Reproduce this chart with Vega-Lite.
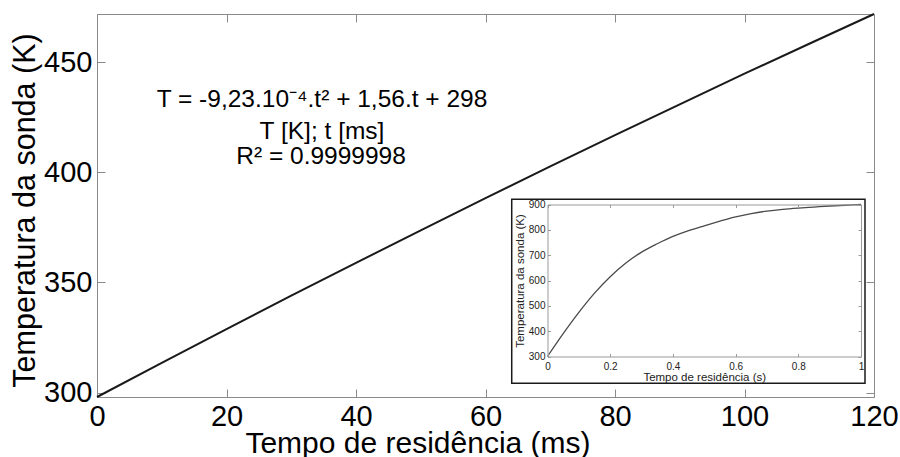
{
  "$schema": "https://vega.github.io/schema/vega-lite/v6.json",
  "width": 777,
  "height": 383,
  "autosize": {"type": "none"},
  "padding": {"left": 97, "top": 14, "right": 26, "bottom": 60},
  "background": "white",
  "config": {
    "font": "Liberation Sans",
    "view": {"stroke": "#8a8a8a", "strokeWidth": 1},
    "axis": {"grid": false, "domain": false, "labelFlush": false, "labelOverlap": false, "labelBound": false, "titleFontWeight": "normal"}
  },
  "datasets": {
    "main": [
      {"t": 0, "T": 298.0},
      {"t": 10, "T": 313.5},
      {"t": 20, "T": 328.8},
      {"t": 30, "T": 344.0},
      {"t": 40, "T": 358.9},
      {"t": 50, "T": 373.7},
      {"t": 60, "T": 388.3},
      {"t": 70, "T": 402.7},
      {"t": 80, "T": 416.9},
      {"t": 90, "T": 430.9},
      {"t": 100, "T": 444.8},
      {"t": 110, "T": 458.4},
      {"t": 120, "T": 471.9}
    ],
    "inset": [
      {"s": 0, "T": 300},
      {"s": 0.05, "T": 390},
      {"s": 0.1, "T": 474},
      {"s": 0.15, "T": 550},
      {"s": 0.2, "T": 615},
      {"s": 0.25, "T": 669},
      {"s": 0.3, "T": 712},
      {"s": 0.35, "T": 745},
      {"s": 0.4, "T": 774},
      {"s": 0.45, "T": 797},
      {"s": 0.5, "T": 816},
      {"s": 0.55, "T": 834},
      {"s": 0.6, "T": 851},
      {"s": 0.65, "T": 864},
      {"s": 0.7, "T": 874},
      {"s": 0.75, "T": 881},
      {"s": 0.8, "T": 886},
      {"s": 0.85, "T": 890},
      {"s": 0.9, "T": 894},
      {"s": 0.95, "T": 897},
      {"s": 1.0, "T": 900}
    ]
  },
  "layer": [
    {
      "layer": [
        {
          "data": {"name": "main"},
          "mark": {"type": "line", "color": "#1a1a1a", "strokeWidth": 2},
          "encoding": {
            "x": {
              "field": "t", "type": "quantitative",
              "scale": {"domain": [0, 120], "nice": false, "zero": false},
              "axis": {
                "orient": "bottom", "values": [0, 20, 40, 60, 80, 100, 120], "format": "d",
                "tickSize": -8, "tickColor": "#8a8a8a", "tickWidth": 1,
                "labelFontSize": 29, "labelColor": "black", "labelPadding": 13.5,
                "title": "Tempo de residência (ms)", "titleFontSize": 30, "titleColor": "black",
                "titleX": 320.5, "titleY": 55, "titleBaseline": "alphabetic", "titleAlign": "center"
              }
            },
            "y": {
              "field": "T", "type": "quantitative",
              "scale": {"domain": [298, 471.9], "nice": false, "zero": false},
              "axis": {
                "orient": "left", "values": [300, 350, 400, 450], "format": "d",
                "tickSize": -8, "tickColor": "#8a8a8a", "tickWidth": 1,
                "labelFontSize": 29, "labelColor": "black", "labelPadding": 13,
                "title": "Temperatura da sonda (K)", "titleFontSize": 30.5, "titleColor": "black", "titlePadding": 3,
                "titleY": 196
              }
            }
          }
        },
        {
          "data": {"values": [{}]},
          "mark": {"type": "rect", "fill": "white", "stroke": "#1a1a1a", "strokeWidth": 1.5},
          "encoding": {
            "x": {"datum": 64.05},
            "x2": {"datum": 118.61},
            "y": {"datum": 387.77},
            "y2": {"datum": 304.22}
          }
        },
        {
          "data": {"values": [{"label": "T = -9,23.10⁻⁴.t² + 1,56.t + 298"}]},
          "mark": {"type": "text", "fontSize": 24.5, "align": "center", "baseline": "alphabetic", "color": "black"},
          "encoding": {
            "x": {"datum": 34.75},
            "y": {"datum": 429.9},
            "text": {"field": "label"}
          }
        },
        {
          "data": {"values": [{"label": "T [K]; t [ms]"}]},
          "mark": {"type": "text", "fontSize": 24.5, "align": "center", "baseline": "alphabetic", "color": "black"},
          "encoding": {
            "x": {"datum": 34.75},
            "y": {"datum": 415.14},
            "text": {"field": "label"}
          }
        },
        {
          "data": {"values": [{"label": "R² = 0.9999998"}]},
          "mark": {"type": "text", "fontSize": 24.5, "align": "center", "baseline": "alphabetic", "color": "black"},
          "encoding": {
            "x": {"datum": 34.6},
            "y": {"datum": 403.66},
            "text": {"field": "label"}
          }
        }
      ]
    },
    {
      "data": {"name": "main"},
      "mark": {"type": "line", "strokeOpacity": 0},
      "encoding": {
        "x": {
          "field": "t", "type": "quantitative",
          "scale": {"domain": [0, 120], "nice": false, "zero": false},
          "axis": {"orient": "top", "values": [0, 20, 40, 60, 80, 100, 120], "labels": false, "title": null,
                   "tickSize": -8, "tickColor": "#8a8a8a", "tickWidth": 1, "zindex": 1}
        },
        "y": {
          "field": "T", "type": "quantitative",
          "scale": {"domain": [298, 471.9], "nice": false, "zero": false},
          "axis": {"orient": "right", "values": [300, 350, 400, 450], "labels": false, "title": null,
                   "tickSize": -8, "tickColor": "#8a8a8a", "tickWidth": 1, "zindex": 1}
        }
      }
    },
    {
      "data": {"name": "inset"},
      "mark": {"type": "line", "color": "#4a4a4a", "strokeWidth": 1.3, "interpolate": "monotone"},
      "encoding": {
        "x": {
          "field": "s", "type": "quantitative",
          "scale": {"domain": [0, 1], "range": [450.5, 764], "nice": false, "zero": false},
          "axis": {
            "orient": "bottom", "offset": -40.5, "values": [0, 0.2, 0.4, 0.6, 0.8, 1], "format": "~g",
            "domain": true, "domainColor": "#999999", "domainWidth": 1,
            "tickSize": -3, "tickColor": "#999999", "tickWidth": 1,
            "labelFontSize": 10, "labelColor": "#222222", "labelPadding": 7.5,
            "title": "Tempo de residência (s)", "titleFontSize": 11.5, "titleColor": "#222222", "titlePadding": 0,
            "zindex": 1
          }
        },
        "y": {
          "field": "T", "type": "quantitative",
          "scale": {"domain": [300, 900], "range": [342.5, 190.5], "nice": false, "zero": false},
          "axis": {
            "orient": "left", "offset": -450.5, "values": [300, 400, 500, 600, 700, 800, 900], "format": "d",
            "domain": true, "domainColor": "#999999", "domainWidth": 1,
            "tickSize": -3, "tickColor": "#999999", "tickWidth": 1,
            "labelFontSize": 10, "labelColor": "#222222", "labelPadding": 5.5,
            "title": "Temperatura da sonda (K)", "titleFontSize": 11.5, "titleColor": "#222222", "titlePadding": 3,
            "zindex": 1
          }
        }
      }
    },
    {
      "data": {"name": "inset"},
      "mark": {"type": "line", "strokeOpacity": 0},
      "encoding": {
        "x": {
          "field": "s", "type": "quantitative",
          "scale": {"domain": [0, 1], "range": [450.5, 764], "nice": false, "zero": false},
          "axis": {
            "orient": "top", "offset": -190.5, "values": [0, 0.2, 0.4, 0.6, 0.8, 1], "labels": false, "title": null,
            "domain": true, "domainColor": "#999999", "domainWidth": 1,
            "tickSize": -3, "tickColor": "#999999", "tickWidth": 1, "zindex": 1
          }
        },
        "y": {
          "field": "T", "type": "quantitative",
          "scale": {"domain": [300, 900], "range": [342.5, 190.5], "nice": false, "zero": false},
          "axis": {
            "orient": "right", "offset": -13, "values": [300, 400, 500, 600, 700, 800, 900], "labels": false, "title": null,
            "domain": true, "domainColor": "#999999", "domainWidth": 1,
            "tickSize": -3, "tickColor": "#999999", "tickWidth": 1, "zindex": 1
          }
        }
      }
    }
  ],
  "resolve": {
    "scale": {"x": "independent", "y": "independent"},
    "axis": {"x": "independent", "y": "independent"}
  }
}
